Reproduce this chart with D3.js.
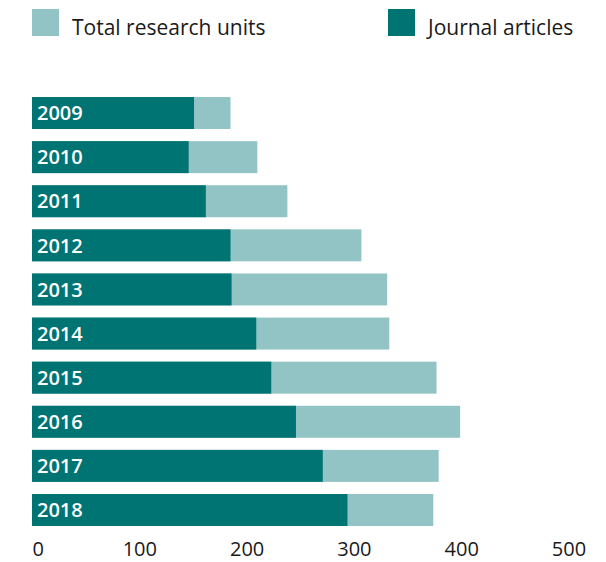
<!DOCTYPE html>
<html>
<head>
<meta charset="utf-8">
<script src="https://cdn.jsdelivr.net/npm/d3@7"></script>
<style>
  body { margin: 0; background: #fff; }
  text { font-family: 'Open Sans', sans-serif; }
</style>
</head>
<body>
<div id="chart"></div>
<script>
const years = ['2009', '2010', '2011', '2012', '2013', '2014', '2015', '2016', '2017', '2018']
const journalArticles = [151, 146, 162, 185, 186, 209, 223, 246, 271, 294]
const totalUnits = [185, 210, 238, 307, 331, 333, 377, 399, 379, 374]
const xTicks = [0, 100, 200, 300, 400, 500]
const legendItems = ['Total research units', 'Journal articles']

const width = 606
const height = 562

const colorScale = d3
  .scaleOrdinal()
  .domain(legendItems)
  .range(['#92c4c6', '#007373'])

const svg = d3
  .select('#chart')
  .append('svg')
  .attr('width', width)
  .attr('height', height)

const xPositionScale = d3.scaleLinear().domain([0, 500]).range([32, 568.5])

const yPositionScale = d3
  .scaleBand()
  .domain(years)
  .range([86, 537])
  .paddingInner(0.275)
  .paddingOuter(0.25)

const datapoints = years.map((y, i) => ({
  year: y,
  journal: journalArticles[i],
  total: totalUnits[i]
}))

// light bars = total, dark bars on top = journal articles
svg
  .selectAll('.bar-total')
  .data(datapoints)
  .enter()
  .append('rect')
  .attr('class', 'bar-total')
  .attr('x', xPositionScale(0))
  .attr('y', d => yPositionScale(d.year))
  .attr('width', d => xPositionScale(d.total) - xPositionScale(0))
  .attr('height', yPositionScale.bandwidth())
  .attr('fill', colorScale('Total research units'))

svg
  .selectAll('.bar-journal')
  .data(datapoints)
  .enter()
  .append('rect')
  .attr('class', 'bar-journal')
  .attr('x', xPositionScale(0))
  .attr('y', d => yPositionScale(d.year))
  .attr('width', d => xPositionScale(d.journal) - xPositionScale(0))
  .attr('height', yPositionScale.bandwidth())
  .attr('fill', colorScale('Journal articles'))

svg
  .selectAll('.year-label')
  .data(datapoints)
  .enter()
  .append('text')
  .attr('class', 'year-label')
  .attr('x', xPositionScale(0) + 5)
  .attr('y', d => yPositionScale(d.year) + yPositionScale.bandwidth() / 2)
  .attr('dy', '0.36em')
  .attr('font-size', 20)
  .attr('font-weight', 600)
  .attr('fill', 'white')
  .text(d => d.year)

// x axis, labels only
const xAxis = d3
  .axisBottom(xPositionScale)
  .tickValues(xTicks)
  .tickSize(0)
  .tickPadding(0)

svg
  .append('g')
  .attr('class', 'axis x-axis')
  .attr('transform', 'translate(0,556)')
  .call(xAxis)

svg.select('.x-axis .domain').remove()
svg
  .selectAll('.x-axis text')
  .attr('font-family', "'Open Sans', sans-serif")
  .attr('font-size', 20)
  .attr('fill', '#1a1a1a')
  .attr('dy', 0)
  .attr('text-anchor', d => (d === 0 ? 'start' : 'middle'))

// legend
const legendX = [32, 388]
const legend = svg
  .selectAll('.legend-entry')
  .data(legendItems)
  .enter()
  .append('g')
  .attr('class', 'legend-entry')
  .attr('transform', (d, i) => `translate(${legendX[i]},9)`)

legend
  .append('rect')
  .attr('width', 27)
  .attr('height', 27)
  .attr('fill', d => colorScale(d))

legend
  .append('text')
  .attr('x', 40)
  .attr('y', 26)
  .attr('font-size', 21)
  .attr('fill', '#1a1a1a')
  .text(d => d)
</script>
</body>
</html>
